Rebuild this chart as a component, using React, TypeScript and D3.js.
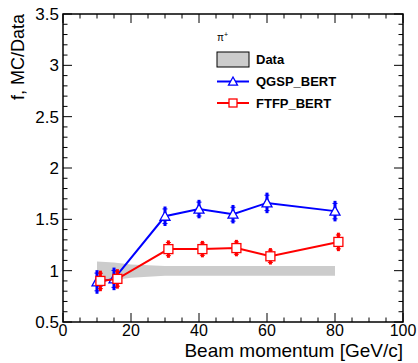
import React from 'react';
import * as d3 from 'd3';

const momentum = [10, 15, 30, 40, 50, 60, 80];
const qgsp = [0.89, 0.92, 1.53, 1.6, 1.55, 1.66, 1.58];
const qgspErr = [0.115, 0.11, 0.095, 0.09, 0.09, 0.1, 0.1];

const ftfpMomentum = [11, 16, 31, 41, 51, 61, 81];
const ftfp = [0.9, 0.92, 1.21, 1.21, 1.22, 1.14, 1.28];
const ftfpErr = [0.1, 0.095, 0.085, 0.08, 0.08, 0.08, 0.09];

const bandMomentum = [10, 15, 20, 30, 40, 50, 60, 80];
const bandLow = [0.89, 0.91, 0.93, 0.95, 0.95, 0.95, 0.95, 0.95];
const bandHigh = [1.09, 1.08, 1.06, 1.045, 1.045, 1.045, 1.045, 1.045];

const xMajor = [0, 20, 40, 60, 80, 100];
const yMajor = [0.5, 1, 1.5, 2, 2.5, 3, 3.5];

const W = 418;
const H = 363;
const margin = { top: 14, right: 15, bottom: 41, left: 63 };
const font = 'Liberation Sans, Arial, sans-serif';

const App = () => {
  const x = d3.scaleLinear().domain([0, 100]).range([margin.left, W - margin.right]);
  const y = d3.scaleLinear().domain([0.5, 3.5]).range([H - margin.bottom, margin.top]);
  const [x0, x1] = x.range();
  const [y0, y1] = y.range(); // y0 bottom, y1 top

  const xMinor = d3.range(0, 100.001, 5);
  const yMinor = d3.range(0.5, 3.5001, 0.1);

  const band = d3.area<number>()
    .x((d, i) => x(bandMomentum[i]))
    .y0((d, i) => y(bandLow[i]))
    .y1((d, i) => y(bandHigh[i]));

  const line = d3.line<[number, number]>().x(d => x(d[0])).y(d => y(d[1]));

  const triangle = (cx: number, cy: number, s = 5) =>
    `M${cx},${cy - s} L${cx + s},${cy + s * 0.8} L${cx - s},${cy + s * 0.8} Z`;

  const errBars = (xs: number[], vs: number[], es: number[], color: string, key: string) =>
    xs.map((m, i) => {
      const cx = x(m);
      const top = y(vs[i] + es[i]);
      const bot = y(vs[i] - es[i]);
      const capT = y(vs[i] + es[i] * 0.75);
      const capB = y(vs[i] - es[i] * 0.75);
      return (
        <g key={key + i}>
          <line x1={cx} x2={cx} y1={top} y2={bot} stroke={color} strokeWidth={3} />
          <line x1={cx - 2.5} x2={cx + 2.5} y1={capT} y2={capT} stroke={color} strokeWidth={1} />
          <line x1={cx - 2.5} x2={cx + 2.5} y1={capB} y2={capB} stroke={color} strokeWidth={1} />
        </g>
      );
    });

  return (
    <svg width={W} height={H} style={{ position: 'absolute', left: 0, top: 0, background: '#fff' }}>
      <rect x={0} y={0} width={W} height={H} fill="#fff" />

      {/* data band */}
      <path d={band(bandMomentum) || ''} fill="#cccccc" />

      {/* QGSP_BERT */}
      <path d={line(momentum.map((m, i) => [m, qgsp[i]]) as [number, number][]) || ''} fill="none" stroke="#0000ff" strokeWidth={2} />
      {errBars(momentum, qgsp, qgspErr, '#0000ff', 'q')}
      {momentum.map((m, i) => (
        <path key={'qt' + i} d={triangle(x(m), y(qgsp[i]))} fill="#fff" stroke="#0000ff" strokeWidth={1.3} />
      ))}

      {/* FTFP_BERT */}
      <path d={line(ftfpMomentum.map((m, i) => [m, ftfp[i]]) as [number, number][]) || ''} fill="none" stroke="#ff0000" strokeWidth={2} />
      {errBars(ftfpMomentum, ftfp, ftfpErr, '#ff0000', 'f')}
      {ftfpMomentum.map((m, i) => (
        <rect key={'fs' + i} x={x(m) - 4.5} y={y(ftfp[i]) - 4.5} width={9} height={9} fill="#fff" stroke="#ff0000" strokeWidth={1.3} />
      ))}

      {/* frame */}
      <rect x={x0} y={y1} width={x1 - x0} height={y0 - y1} fill="none" stroke="#000" strokeWidth={1.5} />

      {/* x ticks, bottom and top */}
      {xMinor.map((v, i) => {
        const major = Math.abs(v % 20) < 1e-6;
        const len = major ? 9 : 4.5;
        return (
          <g key={'xt' + i}>
            <line x1={x(v)} x2={x(v)} y1={y0} y2={y0 - len} stroke="#000" strokeWidth={1} />
            <line x1={x(v)} x2={x(v)} y1={y1} y2={y1 + len} stroke="#000" strokeWidth={1} />
          </g>
        );
      })}
      {/* y ticks, left and right */}
      {yMinor.map((v, i) => {
        const major = Math.abs((v * 2) - Math.round(v * 2)) < 1e-6;
        const len = major ? 9 : 4.5;
        return (
          <g key={'yt' + i}>
            <line x1={x0} x2={x0 + len} y1={y(v)} y2={y(v)} stroke="#000" strokeWidth={1} />
            <line x1={x1} x2={x1 - len} y1={y(v)} y2={y(v)} stroke="#000" strokeWidth={1} />
          </g>
        );
      })}

      {/* tick labels */}
      {xMajor.map(v => (
        <text key={'xl' + v} x={x(v)} y={y0 + 14} textAnchor="middle" fontFamily={font} fontSize={16}>{v}</text>
      ))}
      {yMajor.map(v => (
        <text key={'yl' + v} x={x0 - 4} y={y(v) + 6} textAnchor="end" fontFamily={font} fontSize={17}>{v}</text>
      ))}

      {/* axis titles */}
      <text x={x1} y={357} textAnchor="end" fontFamily={font} fontSize={19}>Beam momentum [GeV/c]</text>
      <text transform={`translate(24,${y1}) rotate(-90)`} textAnchor="end" fontFamily={font} fontSize={18}>f, MC/Data</text>

      {/* legend */}
      <text x={217} y={41} fontFamily={font} fontSize={10}>π<tspan dy={-4} fontSize={7}>+</tspan></text>
      <rect x={217} y={52} width={32} height={15} fill="#cccccc" stroke="#000" strokeWidth={1} />
      <text x={256} y={64} fontFamily={font} fontSize={13} fontWeight="bold">Data</text>
      <line x1={217} x2={249} y1={81.5} y2={81.5} stroke="#0000ff" strokeWidth={2} />
      <path d={triangle(233, 81.5, 4.5)} fill="#fff" stroke="#0000ff" strokeWidth={1.3} />
      <text x={256} y={86} fontFamily={font} fontSize={13} fontWeight="bold">QGSP_BERT</text>
      <line x1={217} x2={249} y1={103} y2={103} stroke="#ff0000" strokeWidth={2} />
      <rect x={229} y={99} width={8} height={8} fill="#fff" stroke="#ff0000" strokeWidth={1.3} />
      <text x={256} y={107.5} fontFamily={font} fontSize={13} fontWeight="bold">FTFP_BERT</text>
    </svg>
  );
};

export default App;
